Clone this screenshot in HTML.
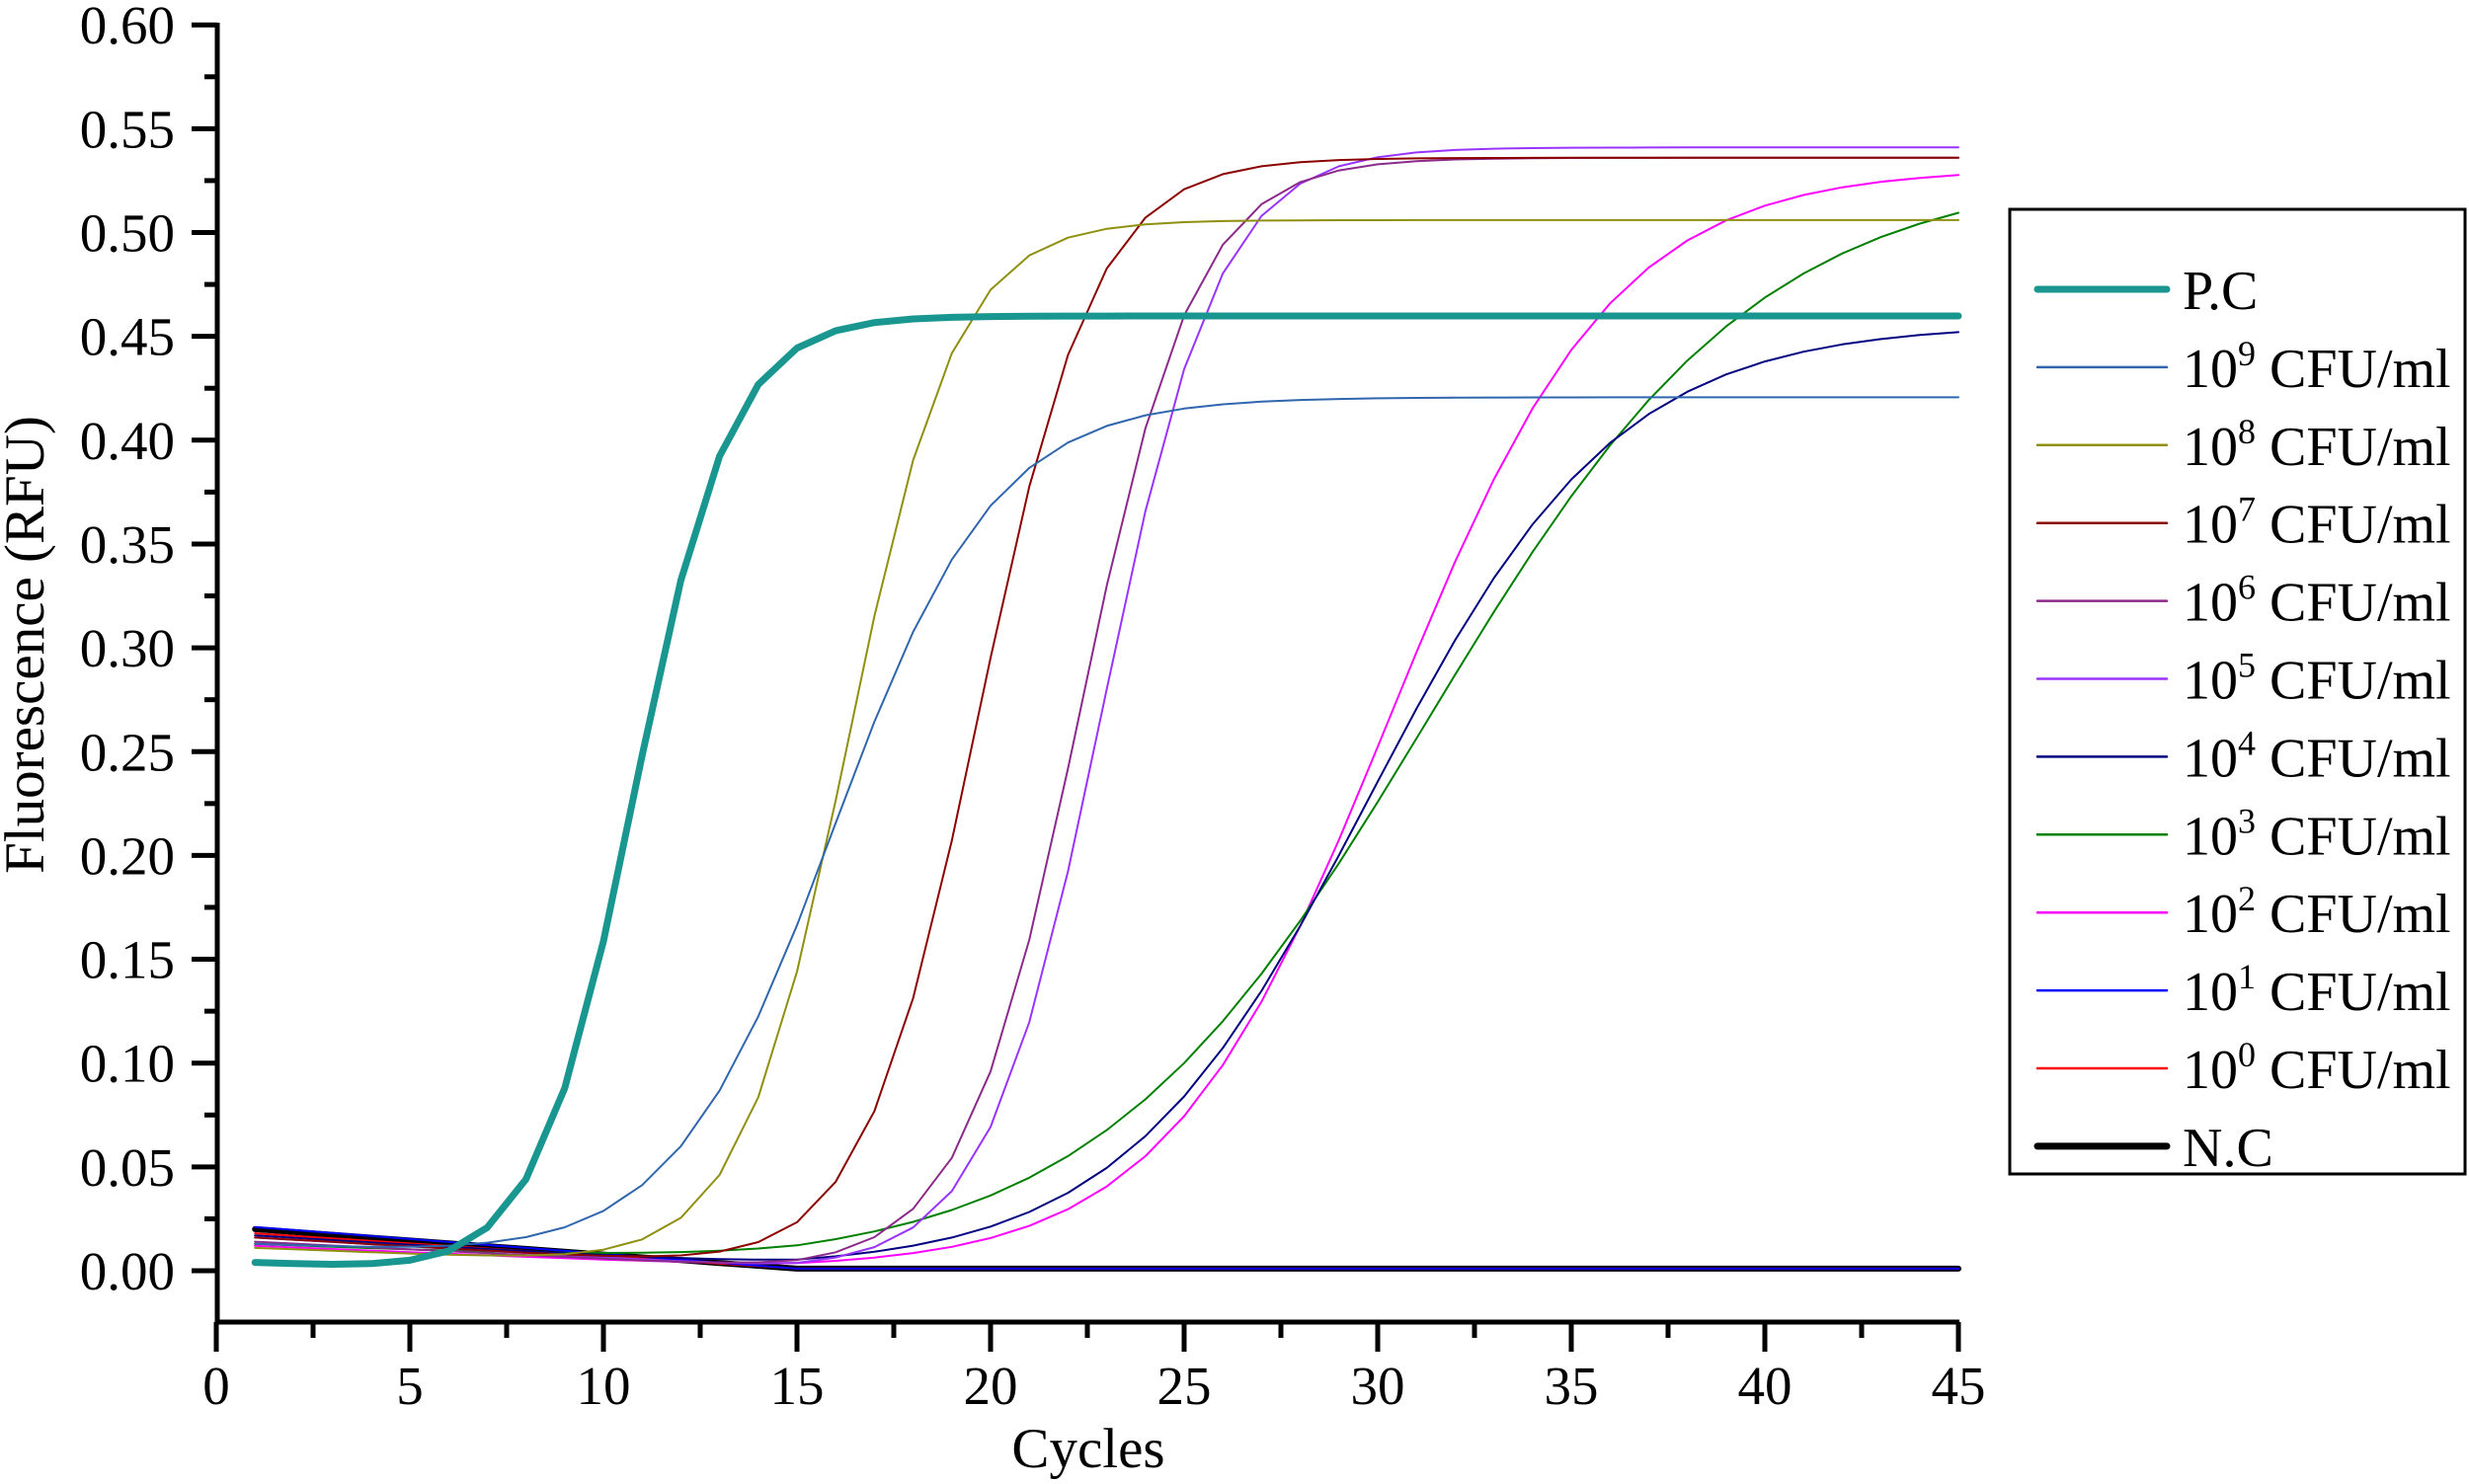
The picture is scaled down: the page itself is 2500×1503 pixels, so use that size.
<!DOCTYPE html>
<html><head><meta charset="utf-8"><style>
html,body{margin:0;padding:0;background:#fff;width:2500px;height:1503px;overflow:hidden}
svg{display:block}
text{font-family:"Liberation Serif",serif;fill:#000}
</style></head><body>
<svg id="s" width="2500" height="1503" viewBox="0 0 2500 1503" xmlns="http://www.w3.org/2000/svg">
<g id="curves" fill="none" stroke-linejoin="round" stroke-linecap="round"></g>
<g stroke="#000" stroke-width="5" fill="none">
<line x1="220" y1="23" x2="220" y2="1341"/>
<line x1="218" y1="1339" x2="1984" y2="1339"/>
</g>
<g id="ticks" stroke="#000" stroke-width="5"></g>
<g id="ylab" font-size="55" text-anchor="end"></g>
<g id="xlab" font-size="55" text-anchor="middle"></g>
<text x="0" y="0" font-size="57" text-anchor="middle" transform="translate(44,653) rotate(-90)">Fluorescence (RFU)</text>
<text x="1102" y="1486" font-size="57" text-anchor="middle">Cycles</text>
<rect x="2035" y="212" width="461" height="977" fill="#fff" stroke="#000" stroke-width="3"/>
<g id="leg" font-size="56"></g>
</svg>
<script>
var X=c=>219+39.2*c, Y=v=>1287-v*2103;
var t=document.getElementById('ticks'),yl=document.getElementById('ylab'),xl=document.getElementById('xlab');
var h='',yh='',xh='';
for(var i=0;i<=24;i++){var v=i*0.025,y=Y(v);h+='<line x1="'+(i%2?207:194)+'" y1="'+y+'" x2="220" y2="'+y+'"/>';
 if(i%2==0)yh+='<text x="177" y="'+(y+19)+'">'+v.toFixed(2)+'</text>';}
for(var c=0;c<=45;c+=2.5){var x=X(c);h+='<line x1="'+x+'" y1="1339" x2="'+x+'" y2="'+(c%5?1355:1369)+'"/>';
 if(c%5==0)xh+='<text x="'+x+'" y="1422">'+c+'</text>';}
t.innerHTML=h;yl.innerHTML=yh;xl.innerHTML=xh;
var S=[
['#1a9690',7,0.46,10.8,1.25,0.004],
['#2f66ad',2,0.42,15.9,2.1,0.012],
['#8f8f10',2,0.505,16.3,1.4,0.010],
['#8b0000',2,0.535,19.7,1.5,0.015],
['#8b2a8b',2,0.535,22.3,1.5,0.013],
['#9933ff',2,0.54,22.9,1.5,0.015],
['#000080',2,0.455,29.8,3.2,0.016],
['#008000',2,0.53,31.3,4.3,0.012],
['#ff00ff',2,0.53,30.3,2.9,0.011],
['#0000ff',2,0,0,1,0.020],
['#ff0000',2,0,0,1,0.017],
['#000000',6,0,0,1,0.019]];
var g='';
S.slice().reverse().forEach(function(s){var d='';
 var base=s[2]?s[2]/(1+Math.exp((s[3]-1)/s[4])):0;
 for(var c=1;c<=45;c++){var b=s[5]*Math.max(0,1-(c-1)/14)+0.001;
  var v=b+(s[2]?s[2]/(1+Math.exp(-(c-s[3])/s[4]))-base:0);
  if(s[0]=='#1a9690')v=(c<=6?0.004*(6-c)/5:0)+s[2]/(1+Math.exp(-(c-s[3])/s[4]))-base;
  d+=(c==1?'M':'L')+X(c).toFixed(1)+','+Y(v).toFixed(1);}
 g+='<path d="'+d+'" stroke="'+s[0]+'" stroke-width="'+s[1]+'"/>';});
document.getElementById('curves').innerHTML=g;
var names=['P.C','9','8','7','6','5','4','3','2','1','0','N.C'],L='';
names.forEach(function(n,i){var y=293+i*78.9,s=S[i];
 L+='<line x1="2063" y1="'+y+'" x2="2194" y2="'+y+'" stroke="'+s[0]+'" stroke-width="'+(s[1]>2?7:2.5)+'" stroke-linecap="round"/>';
 if(n.length>1)L+='<text x="2210" y="'+(y+20)+'">'+n+'</text>';
 else L+='<text x="2210" y="'+(y+20)+'">10<tspan font-size="36" dy="-22">'+n+'</tspan><tspan dy="22"> CFU/ml</tspan></text>';});
document.getElementById('leg').innerHTML=L;
</script>
</body></html>
